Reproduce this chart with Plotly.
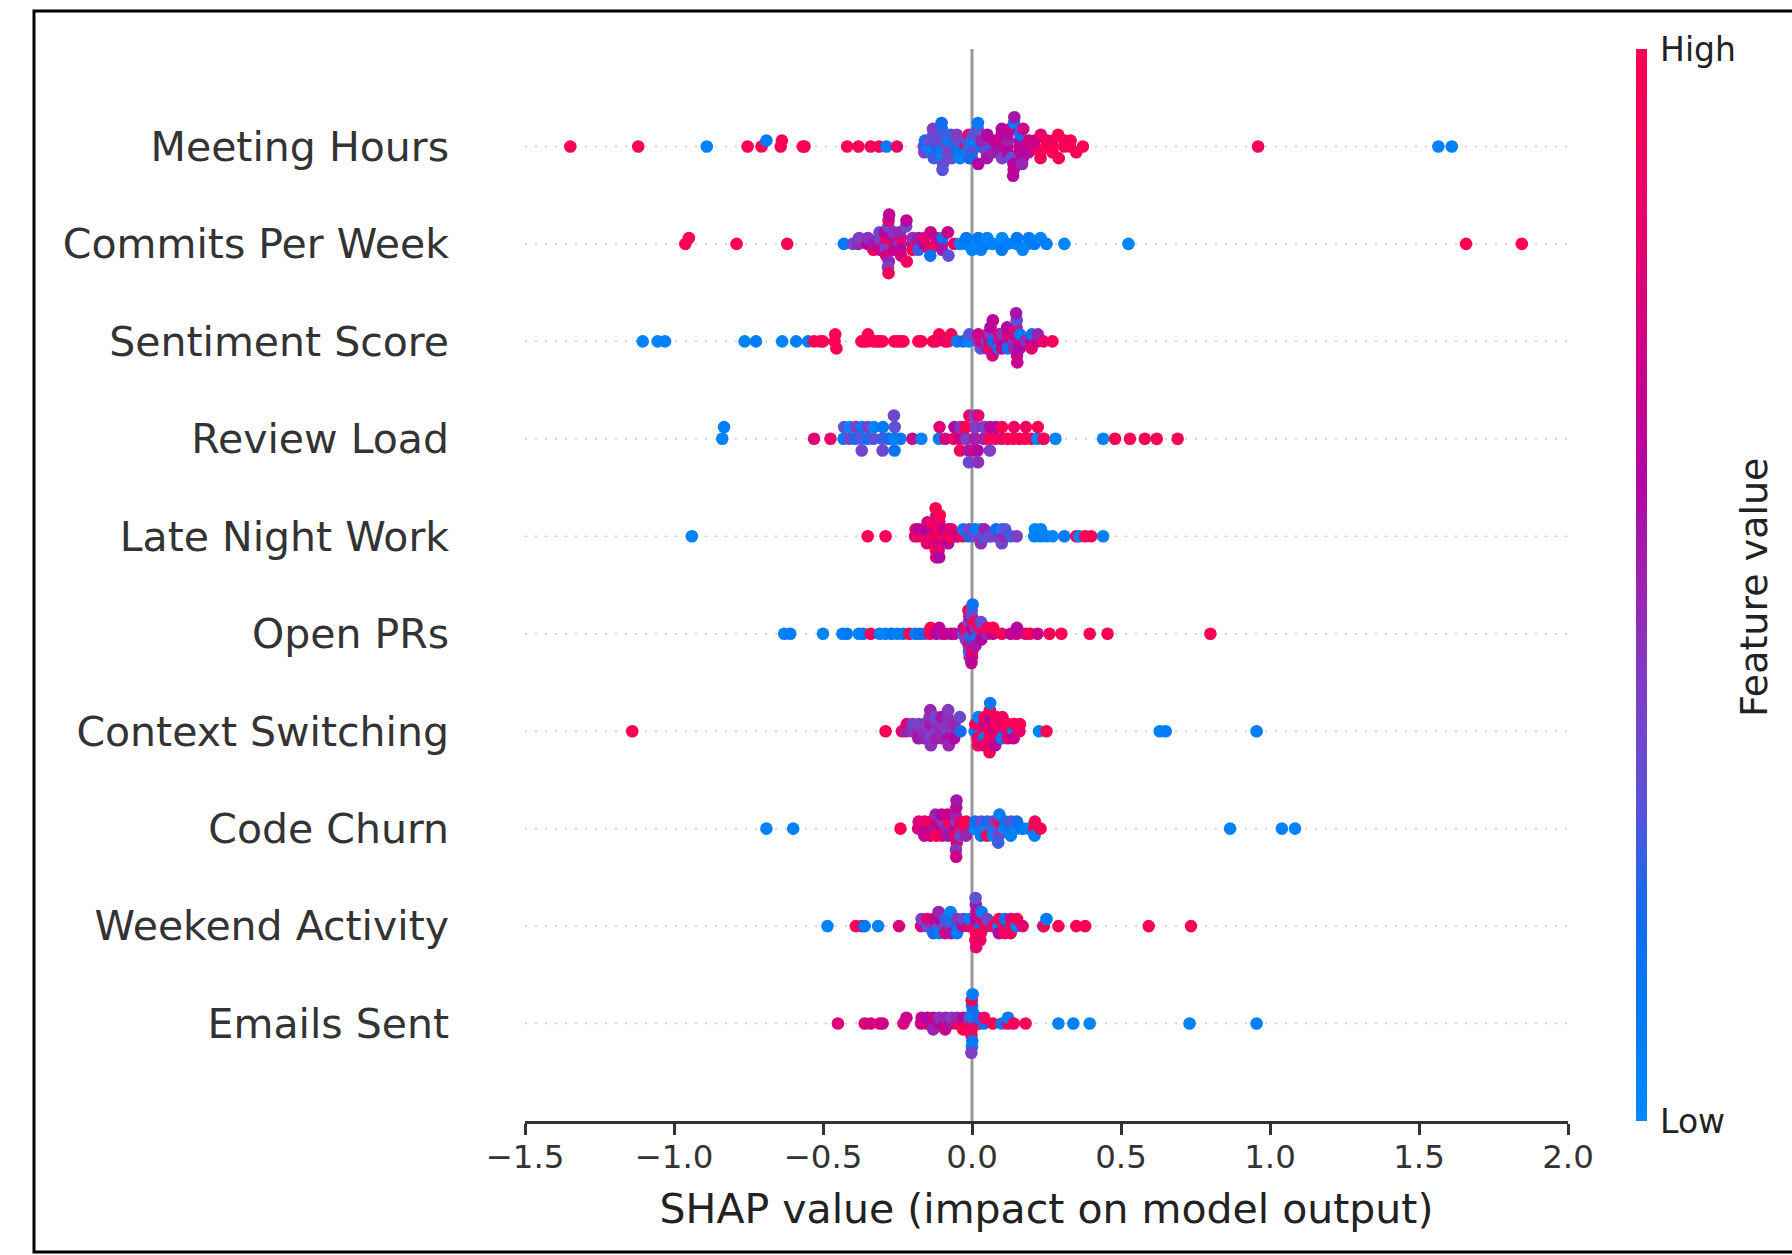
import numpy as np
import plotly.graph_objects as go

# Feature names, top row first
features = ["Meeting Hours", "Commits Per Week", "Sentiment Score", "Review Load",
            "Late Night Work", "Open PRs", "Context Switching", "Code Churn",
            "Weekend Activity", "Emails Sent"]

# SHAP values and normalised feature values (0 = low, 1 = high) per feature
meeting_hours_shap = [
    -1.348, -1.120, -0.890, -0.753, -0.706, -0.690, -0.642, -0.638, -0.568, -0.562,
    -0.419, -0.381, -0.340, -0.312, -0.287, -0.252,
    -0.162, -0.158, -0.160, -0.150, -0.147, -0.133, -0.130, -0.128, -0.131, -0.120, -0.118,
    -0.103, -0.100, -0.098, -0.101, -0.097, -0.102, -0.099, -0.082, -0.079, -0.080,
    -0.071, -0.068, -0.052, -0.050, -0.048, -0.051, -0.040, -0.022, -0.019, -0.020,
    -0.011, -0.009, 0.001, -0.002, 0.000, 0.003, -0.001, 0.019, 0.021, 0.020,
    0.030, 0.032, 0.049, 0.051, 0.050, 0.069, 0.071, 0.070, 0.089, 0.091, 0.090,
    0.099, 0.101, 0.100, 0.118, 0.121, 0.120, 0.119, 0.131, 0.129,
    0.139, 0.141, 0.140, 0.142, 0.138, 0.159, 0.161, 0.160, 0.162,
    0.170, 0.172, 0.168, 0.189, 0.191, 0.190, 0.209, 0.211,
    0.229, 0.231, 0.230, 0.249, 0.251, 0.269, 0.271, 0.270, 0.289, 0.291,
    0.309, 0.311, 0.329, 0.331, 0.350, 0.372, 0.960, 1.565, 1.610]
meeting_hours_value = [
    1.00, 1.00, 0.05, 0.98, 0.97, 0.10, 1.00, 0.96, 1.00, 0.97,
    1.00, 0.96, 0.95, 0.90, 0.10, 0.85,
    0.30, 0.15, 0.35, 0.10, 0.30, 0.05, 0.30, 0.25, 0.40, 0.20, 0.35,
    0.10, 0.30, 0.05, 0.25, 0.35, 0.20, 0.30, 0.30, 0.10, 0.40,
    0.25, 0.35, 0.20, 0.30, 0.15, 0.40, 0.05, 0.95, 0.30, 0.10,
    0.92, 0.25, 0.05, 0.10, 0.35, 0.30, 0.20, 0.30, 0.60, 0.10,
    0.20, 0.50, 0.40, 0.60, 0.55, 0.15, 0.65, 0.50, 0.60, 0.70, 0.55,
    0.65, 0.40, 0.60, 0.70, 0.50, 0.62, 0.58, 0.30, 0.66,
    0.60, 0.10, 0.68, 0.55, 0.62, 0.70, 0.58, 0.65, 0.20,
    0.60, 0.72, 0.50, 0.66, 0.75, 0.62, 0.80, 0.70,
    0.90, 0.85, 0.95, 1.00, 0.92, 0.97, 0.90, 1.00, 1.00, 0.95,
    0.98, 0.93, 1.00, 0.96, 0.97, 1.00, 0.95, 0.05, 0.06]

commits_per_week_shap = [
    -0.962, -0.950, -0.790, -0.620, -0.430, -0.400, -0.381, -0.379, -0.351, -0.349,
    -0.331, -0.329, -0.311, -0.309, -0.310,
    -0.291, -0.289, -0.290, -0.292, -0.288,
    -0.281, -0.279, -0.280, -0.282, -0.278, -0.280,
    -0.261, -0.259, -0.260, -0.262, -0.241, -0.239, -0.240, -0.242, -0.238,
    -0.221, -0.219, -0.220, -0.201, -0.199, -0.200, -0.181, -0.179, -0.180,
    -0.161, -0.159, -0.141, -0.139, -0.140, -0.121, -0.119,
    -0.101, -0.099, -0.100, -0.081, -0.079, -0.060,
    -0.040, -0.021, -0.019, 0.000, 0.019, 0.021, 0.030, 0.049, 0.051, 0.070,
    0.099, 0.101, 0.100, 0.120, 0.149, 0.151, 0.170, 0.189, 0.191, 0.210,
    0.230, 0.250, 0.310, 0.525, 1.658, 1.845]
commits_per_week_value = [
    1.00, 0.98, 1.00, 0.97, 0.10, 0.35, 0.50, 0.40, 0.60, 0.45,
    0.95, 0.55, 0.40, 0.70, 0.35,
    0.45, 0.90, 0.40, 0.60, 0.75,
    0.35, 0.50, 0.80, 0.40, 0.65, 0.95,
    0.98, 0.55, 0.70, 0.45, 0.40, 0.85, 0.60, 0.50, 0.75,
    0.35, 0.90, 0.65, 0.70, 0.45, 0.95, 0.80, 0.55, 0.25,
    0.60, 0.85, 0.90, 0.70, 0.15, 0.95, 0.65,
    0.75, 0.20, 0.55, 0.70, 0.30, 0.85,
    0.05, 0.08, 0.10, 0.05, 0.00, 0.12, 0.06, 0.10, 0.03, 0.05,
    0.08, 0.00, 0.10, 0.06, 0.04, 0.10, 0.05, 0.02, 0.08, 0.10,
    0.03, 0.07, 0.02, 0.03, 1.00, 0.98]

sentiment_score_shap = [
    -1.105, -1.055, -1.030, -0.763, -0.725, -0.637, -0.590, -0.550, -0.530, -0.510,
    -0.500, -0.461, -0.459, -0.455,
    -0.371, -0.361, -0.351, -0.349, -0.331, -0.320, -0.311, -0.300,
    -0.261, -0.250, -0.240, -0.230, -0.180, -0.170, -0.131, -0.120, -0.110,
    -0.090, -0.080, -0.070, -0.050, -0.030, -0.011, -0.009,
    0.019, 0.021, 0.029, 0.031, 0.049, 0.051, 0.050, 0.059, 0.061, 0.060, 0.062,
    0.069, 0.071, 0.070, 0.089, 0.091, 0.090, 0.099, 0.101, 0.100,
    0.119, 0.121, 0.120, 0.118, 0.139, 0.141, 0.140, 0.142,
    0.149, 0.151, 0.150, 0.152, 0.148, 0.159, 0.161, 0.160,
    0.179, 0.181, 0.199, 0.201, 0.200, 0.219, 0.221, 0.240, 0.270]
sentiment_score_value = [
    0.05, 0.03, 0.06, 0.05, 0.08, 0.04, 0.06, 0.10, 0.95, 1.00,
    0.96, 1.00, 0.97, 0.98,
    1.00, 0.97, 1.00, 0.95, 0.98, 1.00, 0.96, 0.99,
    1.00, 0.96, 0.98, 1.00, 0.97, 1.00, 0.98, 1.00, 0.95,
    0.80, 0.97, 0.99, 0.10, 0.20, 0.05, 0.30,
    0.40, 0.70, 0.30, 0.75, 0.35, 0.80, 0.50, 0.70, 0.40, 0.85, 0.60,
    0.75, 0.20, 0.65, 0.50, 0.80, 0.10, 0.65, 0.45, 0.70,
    0.55, 0.80, 0.15, 0.60, 0.70, 0.40, 0.75, 0.50,
    0.80, 0.65, 0.30, 0.70, 0.55, 0.75, 0.10, 0.60,
    0.70, 0.45, 0.65, 0.15, 0.80, 0.70, 0.50, 0.85, 0.95]

review_load_shap = [
    -0.838, -0.832, -0.530, -0.475, -0.431, -0.429, -0.411, -0.409, -0.391, -0.389,
    -0.371, -0.369, -0.370, -0.351, -0.349, -0.331, -0.329,
    -0.301, -0.299, -0.300, -0.281, -0.279, -0.261, -0.259, -0.260, -0.262,
    -0.240, -0.200, -0.170, -0.111, -0.109, -0.090, -0.061, -0.059,
    -0.041, -0.039, -0.040, -0.021, -0.019, -0.020, -0.022, -0.011, -0.009, -0.010,
    0.009, 0.011, 0.010, 0.012, 0.008, 0.010, 0.019, 0.021, 0.020,
    0.039, 0.041, 0.040, 0.042, 0.059, 0.061, 0.060, 0.079, 0.081,
    0.099, 0.101, 0.120, 0.139, 0.141, 0.160, 0.179, 0.181, 0.200,
    0.219, 0.221, 0.239, 0.241, 0.280,
    0.440, 0.480, 0.530, 0.580, 0.620, 0.690]
review_load_value = [
    0.05, 0.08, 0.80, 0.85, 0.10, 0.30, 0.35, 0.05, 0.20, 0.40,
    0.30, 0.10, 0.35, 0.15, 0.40, 0.30, 0.05,
    0.25, 0.10, 0.35, 0.40, 0.20, 0.05, 0.30, 0.15, 0.35,
    0.10, 0.70, 0.05, 0.10, 0.80, 0.75, 0.90, 0.60,
    0.70, 0.45, 0.95, 0.85, 0.40, 0.65, 1.00, 0.55, 0.90, 0.35,
    0.75, 0.50, 0.95, 0.40, 0.80, 0.30, 0.60, 0.85, 0.45,
    0.90, 0.50, 0.70, 0.35, 1.00, 0.65, 0.40, 0.95, 0.60,
    0.85, 1.00, 0.97, 1.00, 0.90, 0.95, 1.00, 0.92, 0.98,
    0.05, 1.00, 0.10, 0.96, 0.05,
    0.05, 1.00, 0.98, 1.00, 0.97, 1.00]

late_night_work_shap = [
    -0.940, -0.350, -0.290, -0.191, -0.189, -0.181, -0.179, -0.161, -0.159, -0.160,
    -0.151, -0.149, -0.131, -0.129, -0.130, -0.132,
    -0.121, -0.119, -0.120, -0.122, -0.118,
    -0.111, -0.109, -0.110, -0.112, -0.108, -0.110,
    -0.101, -0.099, -0.081, -0.079, -0.080, -0.071, -0.069, -0.051, -0.049,
    -0.031, -0.029, -0.011, -0.009, 0.009, 0.011, 0.029, 0.031, 0.030,
    0.039, 0.041, 0.059, 0.061, 0.079, 0.081, 0.099, 0.101, 0.100,
    0.109, 0.111, 0.130, 0.150, 0.209, 0.211, 0.229, 0.231, 0.250, 0.270,
    0.310, 0.350, 0.360, 0.380, 0.400, 0.440]
late_night_work_value = [
    0.05, 0.97, 0.95, 0.75, 0.80, 0.90, 0.65, 0.70, 0.95, 0.60,
    0.85, 0.75, 1.00, 0.70, 0.80, 0.90,
    0.95, 0.65, 0.75, 1.00, 0.85,
    0.98, 0.72, 0.90, 0.80, 1.00, 0.60,
    0.95, 0.70, 0.85, 0.75, 0.65, 1.00, 0.80, 0.90, 0.70,
    0.95, 0.10, 0.20, 0.40, 0.35, 0.10, 0.40, 0.05, 0.45,
    0.30, 0.50, 0.10, 0.35, 0.40, 0.20, 0.45, 0.05, 0.35,
    0.50, 0.30, 0.25, 0.40, 0.05, 0.02, 0.08, 0.04, 0.06, 0.03,
    0.10, 0.95, 0.05, 0.97, 1.00, 0.06]

open_prs_shap = [
    -0.630, -0.610, -0.500, -0.435, -0.420, -0.380, -0.365, -0.340,
    -0.310, -0.290, -0.270, -0.250, -0.230, -0.210, -0.190, -0.175,
    -0.160, -0.141, -0.139, -0.120, -0.110, -0.100, -0.090, -0.070, -0.060,
    -0.030, -0.028, -0.020, -0.019, -0.021,
    -0.010, -0.011, -0.009, -0.010, -0.012, -0.008,
    0.000, 0.001, -0.001, 0.002, -0.002, 0.000, 0.001, -0.001, 0.000, 0.002, -0.002,
    0.010, 0.011, 0.009, 0.010, 0.012, 0.030, 0.029, 0.031, 0.030,
    0.050, 0.049, 0.051, 0.070, 0.071, 0.100, 0.130, 0.150, 0.151, 0.180,
    0.195, 0.220, 0.260, 0.300, 0.395, 0.455, 0.800]
open_prs_value = [
    0.05, 0.08, 0.05, 0.06, 0.10, 0.05, 0.10, 0.95,
    0.08, 0.05, 0.12, 0.06, 0.10, 0.97, 0.10, 0.15,
    0.20, 0.95, 1.00, 0.60, 0.65, 0.55, 0.70, 0.60, 0.65,
    0.30, 0.60, 0.50, 0.90, 0.40,
    0.35, 0.80, 0.55, 0.25, 0.95, 0.45,
    0.30, 0.60, 0.20, 0.85, 0.50, 0.40, 0.95, 0.35, 0.75, 0.15, 0.65,
    0.70, 0.45, 0.15, 0.90, 0.55, 0.40, 0.90, 0.60, 0.30,
    0.85, 0.50, 0.95, 0.70, 1.00, 0.98, 0.65, 0.70, 0.60, 0.75,
    0.97, 0.70, 0.95, 1.00, 0.97, 1.00, 0.98]

context_switching_shap = [
    -1.140, -0.290, -0.235, -0.221, -0.219, -0.201, -0.199, -0.181, -0.179, -0.180,
    -0.161, -0.159, -0.160, -0.141, -0.139, -0.140, -0.142, -0.138, -0.140,
    -0.121, -0.119, -0.120, -0.122, -0.101, -0.099, -0.100, -0.102,
    -0.081, -0.079, -0.080, -0.082, -0.078, -0.080, -0.061, -0.059, -0.060,
    -0.041, -0.039, 0.009, 0.011, 0.019, 0.021, 0.020,
    0.039, 0.041, 0.040, 0.042, 0.038,
    0.059, 0.061, 0.060, 0.062, 0.058, 0.060, 0.059, 0.061,
    0.079, 0.081, 0.080, 0.082, 0.078, 0.099, 0.101, 0.100, 0.102,
    0.119, 0.121, 0.120, 0.139, 0.141, 0.140, 0.159, 0.161,
    0.225, 0.250, 0.630, 0.650, 0.955]
context_switching_value = [
    1.00, 0.98, 0.85, 0.50, 0.80, 0.45, 0.35, 0.50, 0.40, 0.55,
    0.45, 0.40, 0.50, 0.42, 0.55, 0.38, 0.48, 0.45, 0.50,
    0.40, 0.46, 0.52, 0.35, 0.48, 0.43, 0.50, 0.55,
    0.40, 0.45, 0.58, 0.47, 0.50, 0.42, 0.44, 0.50, 0.60,
    0.35, 0.20, 0.10, 0.95, 0.85, 0.05, 0.90,
    1.00, 0.70, 0.10, 0.95, 0.80,
    0.90, 0.75, 1.00, 0.60, 0.85, 0.97, 0.95, 0.10,
    0.70, 1.00, 0.80, 0.92, 0.65, 0.95, 0.85, 0.10, 0.90,
    0.75, 1.00, 0.80, 0.10, 0.95, 0.70, 0.85, 0.98,
    0.05, 1.00, 0.05, 0.08, 0.06]

code_churn_shap = [
    -0.690, -0.600, -0.240, -0.181, -0.179, -0.161, -0.159, -0.160,
    -0.141, -0.139, -0.140, -0.121, -0.119, -0.120, -0.122,
    -0.101, -0.099, -0.100, -0.102, -0.081, -0.079, -0.080, -0.082,
    -0.054, -0.052, -0.053, -0.055, -0.051, -0.053, -0.054, -0.052, -0.053,
    -0.041, -0.039, -0.040, -0.021, -0.019, -0.020,
    0.009, 0.011, 0.010, 0.029, 0.031, 0.030, 0.049, 0.051, 0.050,
    0.069, 0.071, 0.070, 0.089, 0.091, 0.090, 0.092, 0.088,
    0.109, 0.111, 0.129, 0.131, 0.130, 0.149, 0.151, 0.169, 0.171, 0.190,
    0.209, 0.211, 0.210, 0.230, 0.866, 1.040, 1.084]
code_churn_value = [
    0.05, 0.06, 0.98, 0.80, 0.75, 0.70, 0.85, 0.65,
    0.60, 0.90, 0.75, 0.55, 0.70, 1.00, 0.50,
    0.65, 0.45, 0.80, 0.60, 0.50, 0.95, 0.55, 0.70,
    0.60, 0.40, 1.00, 0.50, 0.75, 0.65, 0.45, 0.55, 0.70,
    0.98, 0.80, 0.35, 0.90, 1.00, 0.50,
    0.10, 0.05, 0.15, 0.08, 0.30, 0.12, 0.05, 0.20, 0.95,
    0.10, 0.35, 0.06, 0.30, 0.90, 0.40, 0.08, 0.25,
    0.05, 0.15, 0.10, 0.30, 0.06, 0.04, 0.20, 0.08, 0.10, 0.05,
    1.00, 0.95, 0.06, 1.00, 0.05, 0.06, 0.04]

weekend_activity_shap = [
    -0.485, -0.390, -0.370, -0.360, -0.315, -0.245, -0.171, -0.169,
    -0.151, -0.149, -0.150, -0.131, -0.129, -0.130,
    -0.111, -0.109, -0.110, -0.112, -0.091, -0.089, -0.090,
    -0.071, -0.069, -0.070, -0.072, -0.051, -0.049, -0.050,
    -0.031, -0.029, -0.011, -0.009,
    0.012, 0.014, 0.013, 0.015, 0.011, 0.013, 0.014, 0.012,
    0.029, 0.031, 0.030, 0.032, 0.028, 0.049, 0.051, 0.069, 0.071,
    0.089, 0.091, 0.090, 0.109, 0.111, 0.110, 0.129, 0.131, 0.130, 0.132,
    0.149, 0.151, 0.170, 0.239, 0.241, 0.250, 0.290, 0.350, 0.380, 0.593, 0.735]
weekend_activity_value = [
    0.05, 1.00, 0.80, 0.10, 0.05, 0.78, 0.75, 0.40,
    0.50, 0.30, 0.80, 0.45, 0.70, 0.20,
    0.35, 0.60, 0.10, 0.50, 0.40, 0.25, 0.75,
    0.30, 0.15, 0.55, 0.05, 0.20, 0.45, 0.10,
    0.65, 0.35, 0.80, 0.10,
    0.90, 0.60, 1.00, 0.75, 0.95, 0.55, 0.85, 0.30,
    0.20, 0.80, 1.00, 0.10, 0.90, 0.95, 0.35, 0.10, 0.90,
    0.05, 1.00, 0.60, 0.85, 0.15, 0.95, 0.10, 0.75, 0.90, 1.00,
    0.05, 0.98, 0.80, 0.08, 0.96, 0.10, 1.00, 0.97, 1.00, 1.00, 0.98]

emails_sent_shap = [
    -0.450, -0.360, -0.340, -0.310, -0.300, -0.230, -0.220, -0.171, -0.169,
    -0.151, -0.149, -0.131, -0.129, -0.130, -0.111, -0.109,
    -0.091, -0.089, -0.090, -0.071, -0.069, -0.051, -0.049, -0.050,
    -0.031, -0.029, -0.030, -0.011, -0.009, -0.010,
    0.000, 0.001, -0.001, 0.002, -0.002, 0.000, 0.001, -0.001, 0.000, 0.002, -0.002,
    0.020, 0.021, 0.019, 0.040, 0.041, 0.070, 0.100, 0.120, 0.121, 0.140, 0.180,
    0.290, 0.340, 0.395, 0.730, 0.955]
emails_sent_value = [
    0.80, 0.78, 0.75, 0.80, 0.70, 0.78, 0.70, 0.70, 0.65,
    0.75, 0.60, 0.55, 0.70, 0.50, 0.65, 0.45,
    0.60, 0.50, 0.70, 0.55, 0.40, 0.80, 0.95, 0.50,
    0.90, 0.60, 1.00, 0.85, 0.30, 0.95,
    1.00, 0.10, 0.90, 0.05, 0.95, 0.20, 0.15, 0.98, 0.08, 0.10, 0.40,
    0.10, 0.95, 0.20, 0.15, 0.90, 1.00, 0.10, 0.95, 0.08, 0.90, 1.00,
    0.05, 0.06, 0.04, 0.05, 0.06]

shap_columns = [meeting_hours_shap, commits_per_week_shap, sentiment_score_shap,
                review_load_shap, late_night_work_shap, open_prs_shap,
                context_switching_shap, code_churn_shap, weekend_activity_shap,
                emails_sent_shap]
value_columns = [meeting_hours_value, commits_per_week_value, sentiment_score_value,
                 review_load_value, late_night_work_value, open_prs_value,
                 context_switching_value, code_churn_value, weekend_activity_value,
                 emails_sent_value]

x_ticks = [-1.5, -1.0, -0.5, 0.0, 0.5, 1.0, 1.5, 2.0]

# Red-blue feature-value colour map (low = blue, high = red)
red_blue = [
    [0.0, "rgb(0,138,251)"], [0.1, "rgb(0,122,246)"], [0.2, "rgb(22,106,236)"],
    [0.3, "rgb(92,82,216)"], [0.4, "rgb(126,62,197)"], [0.5, "rgb(154,36,178)"],
    [0.6, "rgb(178,6,162)"], [0.7, "rgb(203,0,138)"], [0.8, "rgb(224,0,116)"],
    [0.9, "rgb(241,0,98)"], [1.0, "rgb(255,0,82)"]]


def beeswarm_offsets(shaps, row_height=0.4, nbins=100):
    """Stack points that fall in the same value bin alternately up and down."""
    shaps = np.asarray(shaps, dtype=float)
    quant = np.round(nbins * (shaps - shaps.min()) / (shaps.max() - shaps.min() + 1e-8))
    order = np.argsort(quant, kind="stable")
    ys = np.zeros(len(shaps))
    layer, last_bin = 0, -1
    for ind in order:
        if quant[ind] != last_bin:
            layer = 0
        ys[ind] = np.ceil(layer / 2) * ((layer % 2) * 2 - 1)
        layer += 1
        last_bin = quant[ind]
    ys *= 0.9 * (row_height / np.max(ys + 1))
    return ys


n_rows = len(features)
xs, ys, cs = [], [], []
for i, (sv, fv) in enumerate(zip(shap_columns, value_columns)):
    pos = n_rows - 1 - i
    off = beeswarm_offsets(sv)
    xs.extend(sv)
    ys.extend(pos + off)
    cs.extend(fv)

W, H = 1792, 1255
L, R, T, B = 525, 224, 49, 134
plot_w, plot_h = W - L - R, H - T - B

fig = go.Figure()
fig.add_trace(go.Scatter(
    x=xs, y=ys, mode="markers", hoverinfo="skip",
    marker=dict(
        size=12.6, color=cs, colorscale=red_blue, cmin=0, cmax=1,
        line=dict(width=0), opacity=1,
        colorbar=dict(
            thickness=11, len=1, lenmode="fraction", y=0.5, yanchor="middle",
            x=(1636 - L) / plot_w, xanchor="left", xpad=0, ypad=0,
            outlinewidth=0, tickvals=[0, 1], ticktext=["Low", "High"],
            ticks="outside", ticklen=7, tickcolor="rgba(0,0,0,0)",
            tickfont=dict(size=33, color="#222222", family="DejaVu Sans"),
        ),
    ),
))

shapes = []
# dotted row guides
for pos in range(n_rows):
    shapes.append(dict(type="line", xref="paper", yref="y", x0=0, x1=1, y0=pos, y1=pos,
                       line=dict(color="#cccccc", width=1.5, dash="2px,8px"), layer="below"))
# zero reference line
shapes.append(dict(type="line", xref="x", yref="paper", x0=0, x1=0, y0=0, y1=1,
                   line=dict(color="#999999", width=3), layer="below"))
# outer frame
shapes.append(dict(type="rect", xref="paper", yref="paper",
                   x0=(34 - L) / plot_w, x1=(1810 - L) / plot_w,
                   y0=(H - B - 1252) / plot_h, y1=(H - B - 11) / plot_h,
                   line=dict(color="black", width=3), fillcolor="rgba(0,0,0,0)"))

fig.update_layout(
    width=W, height=H,
    margin=dict(l=L, r=R, t=T, b=B, autoexpand=False),
    plot_bgcolor="white", paper_bgcolor="white", showlegend=False,
    font=dict(family="DejaVu Sans", color="#333333"),
    shapes=shapes,
    annotations=[dict(
        text="Feature value", xref="paper", yref="paper",
        x=(1754 - L) / plot_w, y=(H - B - 588) / plot_h,
        xanchor="center", yanchor="middle", textangle=-90, showarrow=False,
        font=dict(size=38, color="#222222", family="DejaVu Sans"))],
    xaxis=dict(
        range=[-1.5, 2.0], tickvals=x_ticks, tickformat=".1f",
        ticks="outside", ticklen=11, tickwidth=2.5, tickcolor="#333333",
        showline=True, linecolor="#333333", linewidth=2.5,
        showgrid=False, zeroline=False, ticklabelstandoff=-6,
        tickfont=dict(size=32.5, color="#333333"),
        title=dict(text="SHAP value (impact on model output)", standoff=20,
                   font=dict(size=41, color="#222222")),
    ),
    yaxis=dict(
        range=[-1, n_rows], tickvals=list(range(n_rows)),
        ticktext=list(reversed(features)),
        showgrid=False, zeroline=False, showline=False, ticks="",
        ticklabelstandoff=75,
        tickfont=dict(size=41, color="#333333"),
    ),
)

fig.write_html("out.html")
